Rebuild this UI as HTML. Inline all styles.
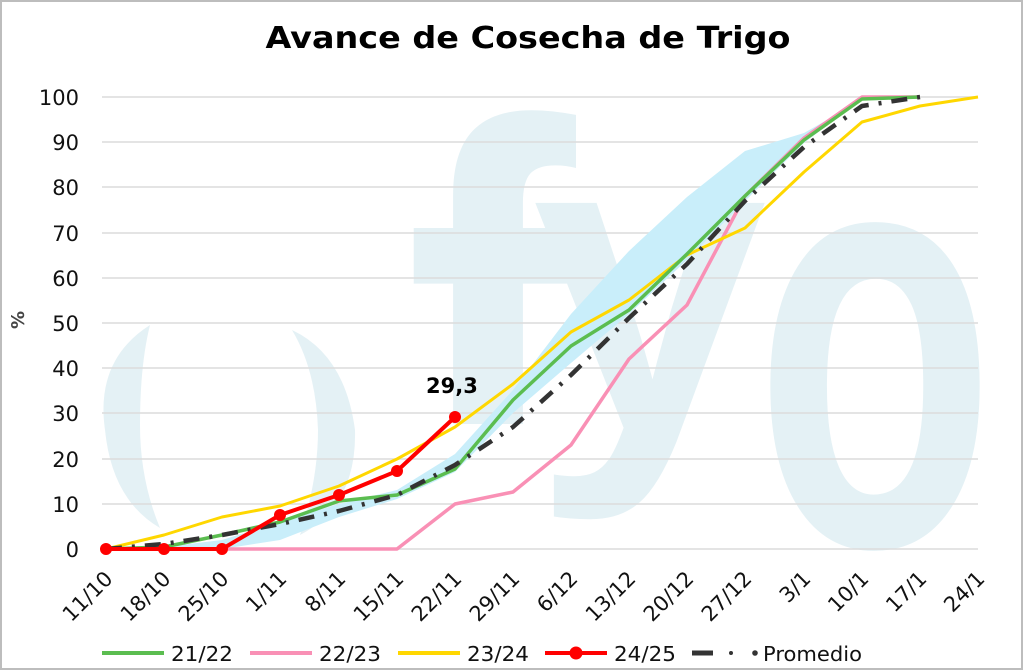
<!DOCTYPE html>
<html><head><style>
html,body{margin:0;padding:0;background:#fff;}
svg{display:block;font-family:"DejaVu Sans","Liberation Sans",sans-serif;}
</style></head><body>
<svg width="1024" height="671" viewBox="0 0 1024 671" xmlns="http://www.w3.org/2000/svg">
<defs>
<clipPath id="cf"><rect x="0" y="0" width="1024" height="424"/></clipPath>
</defs>
<rect x="1" y="1" width="1021" height="668" fill="#fff" stroke="#bdbdbd" stroke-width="2"/>
<!-- watermark -->
<g fill="#e4f1f5" font-family="Liberation Sans, sans-serif" font-weight="bold">
<text x="405" y="545" font-size="600" clip-path="url(#cf)" textLength="170" lengthAdjust="spacingAndGlyphs">f</text>
<text x="532" y="430" font-size="430" textLength="235" lengthAdjust="spacingAndGlyphs">y</text>
<text x="755" y="545" font-size="600" textLength="240" lengthAdjust="spacingAndGlyphs">o</text>
<path d="M150 325 Q95 360 105 430 Q112 500 160 528 Q140 480 140 425 Q140 365 150 325Z"/>
<path d="M292 330 Q345 355 355 430 Q357 505 300 535 Q318 480 318 430 Q316 370 292 330Z"/>
</g>
<!-- grid -->
<g stroke="#dcdcdc" stroke-width="1.5">
<line x1="102" x2="978" y1="97" y2="97"/><line x1="102" x2="978" y1="142" y2="142"/>
<line x1="102" x2="978" y1="187" y2="187"/><line x1="102" x2="978" y1="233" y2="233"/>
<line x1="102" x2="978" y1="278" y2="278"/><line x1="102" x2="978" y1="323" y2="323"/>
<line x1="102" x2="978" y1="368" y2="368"/><line x1="102" x2="978" y1="413" y2="413"/>
<line x1="102" x2="978" y1="459" y2="459"/><line x1="102" x2="978" y1="504" y2="504"/>
<line x1="102" x2="978" y1="549" y2="549"/>
</g>
<!-- band -->
<polygon fill="#c9eefa" points="106,549 164,547 222,540 280,522 339,504 397,490 455,454 513,390 571,314 629,251 687,197 745,151 804,133 862,100 920,97 920,97 862,99 804,143 745,201 687,260 629,314 571,363 513,413 455,472 397,499 339,517 280,540 222,549 164,549"/>
<g fill="none" stroke-linejoin="round">
<polyline stroke="#f990b5" stroke-width="3.5" points="106,549 164,549 222,549 280,549 339,549 397,549 455,504 513,492 571,445 629,359 687,305 745,196 804,138 862,97 920,97"/>
<polyline stroke="#ffd700" stroke-width="3" points="106,549 164,535 222,517 280,506 339,486 397,459 455,427 513,384 571,332 629,300 687,255 745,228 804,172 862,122 920,106 978,97"/>
<polyline stroke="#5bbd50" stroke-width="3.5" points="106,549 164,547 222,535 280,522 339,501 397,495 455,469 513,400 571,346 629,310 687,254 745,196 804,140 862,99 920,97"/>
<polyline stroke="#333" stroke-width="4.5" stroke-dasharray="16,10,3,10" points="106,549 164,544 222,535 280,524 339,511 397,495 455,465 513,427 571,375 629,318 687,264 745,201 804,147 862,106 920,97"/>
<polyline stroke="#ff0000" stroke-width="4" points="106,549 164,549 222,549 280,515 339,495 397,471 455,417"/>
</g>
<g fill="#ff0000"><circle cx="106" cy="549" r="6"/><circle cx="164" cy="549" r="6"/><circle cx="222" cy="549" r="6"/><circle cx="280" cy="515" r="6"/><circle cx="339" cy="495" r="6"/><circle cx="397" cy="471" r="6"/><circle cx="455" cy="417" r="6"/></g>
<text x="426" y="393" font-weight="bold" font-size="21">29,3</text>
<text x="528" y="48" text-anchor="middle" font-weight="bold" font-size="30" textLength="525" lengthAdjust="spacingAndGlyphs">Avance de Cosecha de Trigo</text>
<g font-size="21" text-anchor="end" fill="#111">
<text x="79" y="105">100</text><text x="79" y="150">90</text><text x="79" y="195">80</text><text x="79" y="241">70</text><text x="79" y="286">60</text><text x="79" y="331">50</text><text x="79" y="376">40</text><text x="79" y="421">30</text><text x="79" y="467">20</text><text x="79" y="512">10</text><text x="79" y="557">0</text>
</g>
<text transform="translate(24,320) rotate(-90)" text-anchor="middle" font-weight="bold" font-size="18" fill="#444">%</text>
<g font-size="21" text-anchor="end" fill="#111">
<text transform="translate(114,580) rotate(-45)">11/10</text>
<text transform="translate(172,580) rotate(-45)">18/10</text>
<text transform="translate(230,580) rotate(-45)">25/10</text>
<text transform="translate(288,580) rotate(-45)">1/11</text>
<text transform="translate(347,580) rotate(-45)">8/11</text>
<text transform="translate(405,580) rotate(-45)">15/11</text>
<text transform="translate(463,580) rotate(-45)">22/11</text>
<text transform="translate(521,580) rotate(-45)">29/11</text>
<text transform="translate(579,580) rotate(-45)">6/12</text>
<text transform="translate(637,580) rotate(-45)">13/12</text>
<text transform="translate(695,580) rotate(-45)">20/12</text>
<text transform="translate(753,580) rotate(-45)">27/12</text>
<text transform="translate(812,580) rotate(-45)">3/1</text>
<text transform="translate(870,580) rotate(-45)">10/1</text>
<text transform="translate(928,580) rotate(-45)">17/1</text>
<text transform="translate(986,580) rotate(-45)">24/1</text>
</g>
<g font-size="20" fill="#111">
<line x1="102" x2="164" y1="653" y2="653" stroke="#5bbd50" stroke-width="4"/><text x="171" y="661" textLength="62" lengthAdjust="spacingAndGlyphs">21/22</text>
<line x1="250" x2="312" y1="653" y2="653" stroke="#f990b5" stroke-width="4"/><text x="319" y="661" textLength="62" lengthAdjust="spacingAndGlyphs">22/23</text>
<line x1="398" x2="460" y1="653" y2="653" stroke="#ffd700" stroke-width="4"/><text x="467" y="661" textLength="62" lengthAdjust="spacingAndGlyphs">23/24</text>
<line x1="545" x2="607" y1="653" y2="653" stroke="#ff0000" stroke-width="4"/><circle cx="576" cy="653" r="6.5" fill="#ff0000"/><text x="614" y="661" textLength="62" lengthAdjust="spacingAndGlyphs">24/25</text>
<line x1="692" x2="713" y1="653" y2="653" stroke="#333" stroke-width="5"/><circle cx="731" cy="653" r="2" fill="#333"/><circle cx="755" cy="653" r="2.8" fill="#333"/><text x="763" y="661" textLength="99" lengthAdjust="spacingAndGlyphs">Promedio</text>
</g>
</svg>
</body></html>
